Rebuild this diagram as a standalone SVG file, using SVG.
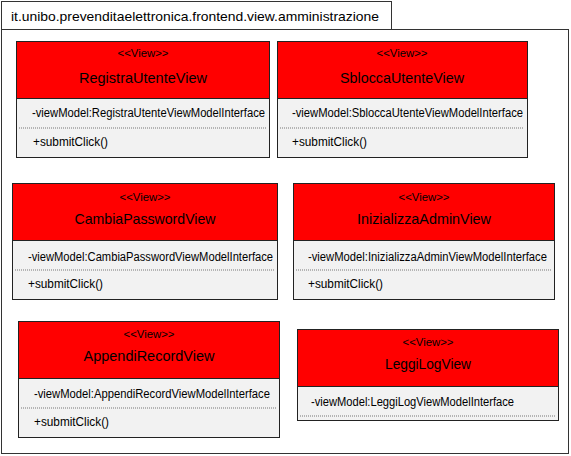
<svg xmlns="http://www.w3.org/2000/svg" width="571" height="456" viewBox="0 0 571 456">
<style>
.pkg{fill:#fff;stroke:#333;stroke-width:1}
.hd{fill:#ff0000;stroke:#222;stroke-width:1}
.bd{fill:#f2f2f2;stroke:#222;stroke-width:1}
.dash{stroke:#777;stroke-width:1;stroke-dasharray:1 1}
text{font-family:"Liberation Sans","DejaVu Sans",sans-serif;fill:#000}
.st{font-size:11px;text-anchor:middle}
.nm{font-size:15px;text-anchor:middle}
.at{font-size:12px}
.pt{font-size:13px}
</style>
<rect width="571" height="456" fill="#fff"/>
<g id="package">
<rect class="pkg" x="1.5" y="1.5" width="390" height="28"/>
<rect class="pkg" x="1.5" y="29.5" width="567" height="424"/>
<text class="pt" x="11" y="21" textLength="368" lengthAdjust="spacingAndGlyphs">it.unibo.prevenditaelettronica.frontend.view.amministrazione</text>
</g>
<g id="connectors"></g>
<g id="RegistraUtenteView">
<rect class="bd" x="16.5" y="41.5" width="253" height="116"/>
<rect class="hd" x="16.5" y="41.5" width="253" height="57"/>
<text class="st" x="143" y="57" textLength="51" lengthAdjust="spacingAndGlyphs">&lt;&lt;View&gt;&gt;</text>
<text class="nm" x="143" y="83" textLength="128" lengthAdjust="spacingAndGlyphs">RegistraUtenteView</text>
<text class="at" x="32" y="117" textLength="233" lengthAdjust="spacingAndGlyphs">-viewModel:RegistraUtenteViewModelInterface</text>
<line class="dash" x1="19" y1="128" x2="266" y2="128"/>
<text class="at" x="33" y="146" textLength="75" lengthAdjust="spacingAndGlyphs">+submitClick()</text>
</g>
<g id="SbloccaUtenteView">
<rect class="bd" x="277.5" y="41.5" width="250" height="116"/>
<rect class="hd" x="277.5" y="41.5" width="250" height="57"/>
<text class="st" x="402" y="57" textLength="51" lengthAdjust="spacingAndGlyphs">&lt;&lt;View&gt;&gt;</text>
<text class="nm" x="402" y="83" textLength="124" lengthAdjust="spacingAndGlyphs">SbloccaUtenteView</text>
<text class="at" x="292" y="117" textLength="231" lengthAdjust="spacingAndGlyphs">-viewModel:SbloccaUtenteViewModelInterface</text>
<line class="dash" x1="280" y1="128" x2="524" y2="128"/>
<text class="at" x="292" y="146" textLength="75" lengthAdjust="spacingAndGlyphs">+submitClick()</text>
</g>
<g id="CambiaPasswordView">
<rect class="bd" x="12.5" y="183.5" width="265" height="116"/>
<rect class="hd" x="12.5" y="183.5" width="265" height="57"/>
<text class="st" x="145" y="201" textLength="51" lengthAdjust="spacingAndGlyphs">&lt;&lt;View&gt;&gt;</text>
<text class="nm" x="145" y="224" textLength="141" lengthAdjust="spacingAndGlyphs">CambiaPasswordView</text>
<text class="at" x="28" y="261" textLength="245" lengthAdjust="spacingAndGlyphs">-viewModel:CambiaPasswordViewModelInterface</text>
<line class="dash" x1="15" y1="270" x2="274" y2="270"/>
<text class="at" x="28" y="288" textLength="75" lengthAdjust="spacingAndGlyphs">+submitClick()</text>
</g>
<g id="InizializzaAdminView">
<rect class="bd" x="293.5" y="183.5" width="261" height="116"/>
<rect class="hd" x="293.5" y="183.5" width="261" height="57"/>
<text class="st" x="424" y="201" textLength="51" lengthAdjust="spacingAndGlyphs">&lt;&lt;View&gt;&gt;</text>
<text class="nm" x="424" y="224" textLength="134" lengthAdjust="spacingAndGlyphs">InizializzaAdminView</text>
<text class="at" x="308" y="261" textLength="239" lengthAdjust="spacingAndGlyphs">-viewModel:InizializzaAdminViewModelInterface</text>
<line class="dash" x1="296" y1="270" x2="551" y2="270"/>
<text class="at" x="308" y="288" textLength="75" lengthAdjust="spacingAndGlyphs">+submitClick()</text>
</g>
<g id="AppendiRecordView">
<rect class="bd" x="18.5" y="321.5" width="261" height="116"/>
<rect class="hd" x="18.5" y="321.5" width="261" height="57"/>
<text class="st" x="149" y="338" textLength="51" lengthAdjust="spacingAndGlyphs">&lt;&lt;View&gt;&gt;</text>
<text class="nm" x="149" y="361" textLength="131" lengthAdjust="spacingAndGlyphs">AppendiRecordView</text>
<text class="at" x="34" y="398" textLength="236" lengthAdjust="spacingAndGlyphs">-viewModel:AppendiRecordViewModelInterface</text>
<line class="dash" x1="21" y1="408" x2="276" y2="408"/>
<text class="at" x="34" y="426" textLength="75" lengthAdjust="spacingAndGlyphs">+submitClick()</text>
</g>
<g id="LeggiLogView">
<rect class="bd" x="297.5" y="329.5" width="261" height="91"/>
<rect class="hd" x="297.5" y="329.5" width="261" height="57"/>
<text class="st" x="428" y="346" textLength="51" lengthAdjust="spacingAndGlyphs">&lt;&lt;View&gt;&gt;</text>
<text class="nm" x="428" y="369" textLength="86" lengthAdjust="spacingAndGlyphs">LeggiLogView</text>
<text class="at" x="311" y="406" textLength="203" lengthAdjust="spacingAndGlyphs">-viewModel:LeggiLogViewModelInterface</text>
<line class="dash" x1="300" y1="416" x2="555" y2="416"/>
</g>
</svg>
